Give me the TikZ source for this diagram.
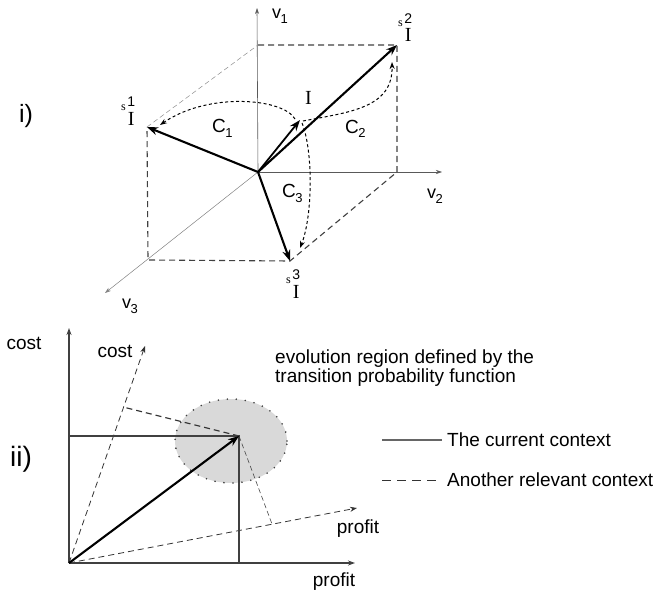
\documentclass[tikz,border=0pt]{standalone}
\usepackage{fontspec}
\setmainfont{Liberation Sans}
\newfontfamily\serifI{Liberation Serif}
\usetikzlibrary{arrows.meta, shapes.geometric, calc}

% label of a state vector: small s, upper index, serif I
\newcommand{\sIlab}[1]{\raisebox{15pt}{\fontsize{12}{12}\selectfont\serifI s}\kern1.5pt%
  \shortstack{{\fontsize{14}{14}\selectfont #1}\\[2pt]{\fontsize{20}{20}\selectfont\serifI I}}}
% letter with a lowered index
\newcommand{\idx}[2]{#1\kern-0.5pt\raisebox{-5pt}{\fontsize{13}{13}\selectfont #2}}

\begin{document}
\begin{tikzpicture}[x=1pt, y=-1pt,
    lbl/.style={font=\fontsize{19}{19}\selectfont, inner sep=0pt},
    vlbl/.style={font=\fontsize{18}{18}\selectfont, inner sep=0pt, anchor=base west},
    vec/.style={-{Stealth[length=11pt,width=8pt]}, line width=2.1pt},
    axis/.style={-{Stealth[length=6pt,width=4pt]}, line width=0.6pt, black!65},
    edge/.style={line width=1.1pt, black!75, dash pattern=on 6pt off 4pt},
    back/.style={line width=0.5pt, black!45, dash pattern=on 5pt off 3pt},
    turn/.style={-{Stealth[length=7pt,width=5pt]}, line width=1pt, dash pattern=on 3pt off 2.5pt},
    frame/.style={-{Stealth[length=7pt,width=5pt]}, line width=1.5pt, black!75},
    thin/.style={line width=1.2pt, black!75},
    rot/.style={-{Stealth[length=7pt,width=5pt]}, line width=0.8pt, black!80, dash pattern=on 6pt off 4pt},
    proj/.style={line width=1.1pt, black!80, dash pattern=on 6pt off 4pt}
]
    \useasboundingbox (0,0) rectangle (654,594);

    %% --- i) three context dimensions ---
    \coordinate (O)  at (258,172);
    \coordinate (A)  at (258,45);
    \coordinate (S2) at (397,45);
    \coordinate (Cv) at (397,172);
    \coordinate (S3) at (290,261);
    \coordinate (E)  at (148,260);
    \coordinate (S1) at (147,127);
    \coordinate (Iv) at (300,120);
    \coordinate (v1) at (257,8);
    \coordinate (v2) at (442,172);
    \coordinate (v3) at (105,293);

    \draw[axis] (O) -- (v1);
    \draw[axis] (O) -- (v2);
    \draw[axis, black!50, line width=0.5pt] (O) -- (v3);
    \draw[edge] (A) -- (S2) -- (Cv) -- (S3) -- (E) -- (S1);
    \draw[back] (S1) -- (A);

    \draw[vec] (O) -- (S1);
    \draw[vec] (O) -- (S2);
    \draw[vec] (O) -- (S3);
    \draw[vec, line width=1.8pt] (O) -- (Iv);

    %% --- changes of context ---
    \coordinate (c1s) at (295,119);
    \coordinate (c1e) at (160,125);
    \coordinate (c2s) at (303,121);
    \coordinate (c2e) at (392,62);
    \coordinate (c3s) at (302,123);
    \coordinate (c3e) at (300,248);
    \draw[turn] (c1s) .. controls (283,98) and (208,92) .. (c1e);
    \draw[turn] (c2s) .. controls (350,112) and (393,108) .. (c2e);
    \draw[turn] (c3s) .. controls (313,150) and (313,215) .. (c3e);

    %% --- labels ---
    \node[lbl, font=\fontsize{25}{25}\selectfont, anchor=base] (li) at (26,123) {i)};
    \node[vlbl] (lv1) at (272,19) {\idx{v}{1}};
    \node[vlbl] (lv2) at (427,198) {\idx{v}{2}};
    \node[vlbl] (lv3) at (122,308) {\idx{v}{3}};
    \node[vlbl, font=\fontsize{19}{19}\selectfont] (lc1) at (212,132) {\idx{C}{1}};
    \node[vlbl, font=\fontsize{19}{19}\selectfont] (lc2) at (345,133) {\idx{C}{2}};
    \node[vlbl, font=\fontsize{19}{19}\selectfont] (lc3) at (282,197) {\idx{C}{3}};
    \node[vlbl] (ls1) at (121,125) {\sIlab{1}};
    \node[vlbl] (ls2) at (398,42) {\sIlab{2}};
    \node[vlbl] (ls3) at (286,298) {\sIlab{3}};
    \node[inner sep=0pt, anchor=base, font=\fontsize{20}{20}\selectfont\serifI] (lI) at (308.5,105) {I};

    %% --- ii) profit / cost plane ---
    \coordinate (O2)    at (69,563);
    \coordinate (costT) at (69,328);
    \coordinate (profT) at (355,563);
    \coordinate (P)     at (239,436);
    \coordinate (Py)    at (69,436);
    \coordinate (Px)    at (239,563);
    \coordinate (cost2) at (145,346);
    \coordinate (prof2) at (357,508);
    \coordinate (Pc)    at (123,407);
    \coordinate (Pp)    at (272,524);

    \node[ellipse, minimum width=112pt, minimum height=84pt, fill=black!15,
          draw=black!75, line width=1.8pt, line cap=round,
          dash pattern=on 0pt off 9pt] (region) at (231,441) {};

    \draw[rot] (O2) -- (cost2);
    \draw[rot] (O2) -- (prof2);
    \draw[proj] (P) -- (Pc);
    \draw[line width=0.6pt, black!70, dash pattern=on 5pt off 3pt] (P) -- (Pp);
    \draw[thin] (Py) -- (P) -- (Px);
    \draw[frame] (O2) -- (costT);
    \draw[frame] (O2) -- (profT);
    \draw[vec] (O2) -- (P);

    \node[lbl, font=\fontsize{28}{28}\selectfont, anchor=base] (lii) at (21,466) {ii)};
    \node[lbl, anchor=base] (lcost) at (24,349) {cost};
    \node[lbl, anchor=base] (lcost2) at (115,357) {cost};
    \node[lbl, anchor=base] (lprof2) at (358,533) {profit};
    \node[lbl, anchor=base] (lprof) at (334,586) {profit};
    \node[lbl, anchor=north west, align=left, font=\fontsize{19}{17}\selectfont] (evo) at (275,350)
        {evolution region defined by the\\transition probability function};

    %% --- legend ---
    \node[lbl, anchor=west] (cur) at (447,440) {The current context};
    \node[lbl, anchor=west] (oth) at (447,480) {Another relevant context};
    \coordinate (k1) at (382,440);
    \coordinate (k2) at (382,480);
    \draw[line width=1.8pt, black!60] (k1) -- ($(cur.west)+(-5,0)$);
    \draw[line width=1pt, black!80, dash pattern=on 9pt off 6pt] (k2) -- ($(oth.west)+(-8,0)$);
\end{tikzpicture}
\end{document}
